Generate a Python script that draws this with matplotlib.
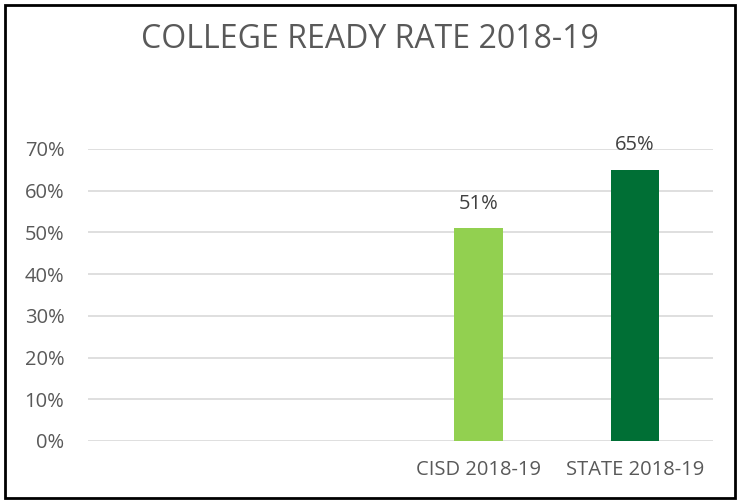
import matplotlib
matplotlib.use("Agg")
import matplotlib.pyplot as plt
from matplotlib.patches import Rectangle
from matplotlib.ticker import FuncFormatter, MultipleLocator

plt.rcParams['font.family'] = ['Open Sans', 'DejaVu Sans']

categories = ["", " ", "CISD 2018-19", "STATE 2018-19"]
values = [None, None, 0.51, 0.65]
colors = ["#92D050", "#92D050", "#92D050", "#006F35"]
title = "COLLEGE READY RATE 2018-19"
text_color = "#595959"

fig = plt.figure(figsize=(7.4, 5.03), dpi=100)
ax = fig.add_axes([88/740, 1 - 441/503, (713-88)/740, (441-149)/503])

x = list(range(len(categories)))
for xi, v, c in zip(x, values, colors):
    if v is None:
        continue
    ax.bar(xi, v, width=0.31, color=c, zorder=3)
    ax.text(xi, v + 0.035, f"{round(v*100)}%", ha='center', va='bottom',
            fontsize=14.5, color="#404040")

ax.set_xlim(-0.5, len(categories) - 0.5)
ax.set_ylim(0, 0.70)
ax.yaxis.set_major_locator(MultipleLocator(0.1))
ax.yaxis.set_major_formatter(FuncFormatter(lambda v, p: f"{round(v*100)}%"))
ax.set_xticks(x)
ax.set_xticklabels(categories)
ax.tick_params(axis='both', length=0, labelsize=14.5, labelcolor=text_color)
ax.tick_params(axis='y', pad=17)
ax.tick_params(axis='x', pad=14)
ax.grid(axis='y', color="#D9D9D9", linewidth=1.2, zorder=0)
for s in ax.spines.values():
    s.set_visible(False)

fig.text(370/740, 1 - 39/503, title, ha='center', va='center',
         fontsize=23, color=text_color)

fig.patches.append(Rectangle((5/740, 5/503), 730/740, 493/503, transform=fig.transFigure,
                             fill=False, edgecolor='black', linewidth=2))

fig.savefig("out.png", dpi=100)
